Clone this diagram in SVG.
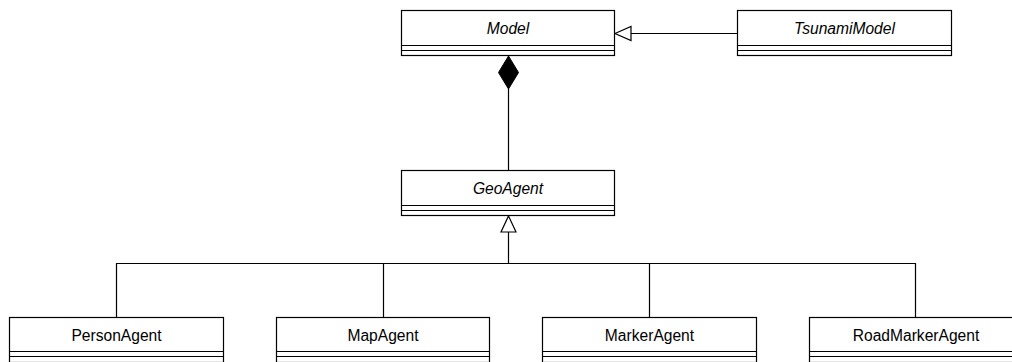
<svg xmlns="http://www.w3.org/2000/svg" width="1012" height="362" viewBox="0 0 1012 362">
<style>
.box{fill:#fff;stroke:#000;stroke-width:1.2}
.ln{fill:none;stroke:#000;stroke-width:1.2}
.t{font-family:"Liberation Sans",Arial,sans-serif;font-size:15.6px;text-anchor:middle;fill:#000}
.i{font-style:italic}
</style>
<rect width="1012" height="362" fill="#fff"/>
<g id="connectors">
<path class="ln" d="M737.5 33.5 H631"/>
<polygon points="615,33.5 631,26.5 631,40.5" fill="#fff" stroke="#000" stroke-width="1.2"/>
<path class="ln" d="M508.5 89 V170"/>
<polygon points="508.5,56 518.5,72.5 508.5,89 498.5,72.5" fill="#000" stroke="#000"/>
<path class="ln" d="M508.5 232 V263.5 M116.5 317 V263.5 H915.5 V317 M383.5 263.5 V317 M649.5 263.5 V317"/>
<polygon points="508.5,216 516,232 501,232" fill="#fff" stroke="#000" stroke-width="1.2"/>
</g>
<g id="Model">
<rect class="box" x="401.5" y="10.5" width="213" height="45"/>
<path class="ln" d="M401.5 45.5 H614.5 M401.5 50.5 H614.5"/>
<text class="t i" x="508" y="33.5">Model</text>
</g>
<g id="TsunamiModel">
<rect class="box" x="737.5" y="10.5" width="214" height="45"/>
<path class="ln" d="M737.5 45.5 H951.5 M737.5 50.5 H951.5"/>
<text class="t i" x="844.5" y="33.5">TsunamiModel</text>
</g>
<g id="GeoAgent">
<rect class="box" x="401.5" y="170.5" width="213" height="45"/>
<path class="ln" d="M401.5 205.5 H614.5 M401.5 210.5 H614.5"/>
<text class="t i" x="508" y="193.5">GeoAgent</text>
</g>
<g id="PersonAgent">
<rect class="box" x="9.5" y="317.5" width="214" height="45"/>
<path class="ln" d="M9.5 351.5 H223.5 M9.5 356.5 H223.5"/>
<text class="t" x="116.5" y="340.5">PersonAgent</text>
</g>
<g id="MapAgent">
<rect class="box" x="276.5" y="317.5" width="213" height="45"/>
<path class="ln" d="M276.5 351.5 H489.5 M276.5 356.5 H489.5"/>
<text class="t" x="383" y="340.5">MapAgent</text>
</g>
<g id="MarkerAgent">
<rect class="box" x="542.5" y="317.5" width="214" height="45"/>
<path class="ln" d="M542.5 351.5 H756.5 M542.5 356.5 H756.5"/>
<text class="t" x="649.5" y="340.5">MarkerAgent</text>
</g>
<g id="RoadMarkerAgent">
<rect class="box" x="809.5" y="317.5" width="214" height="45"/>
<path class="ln" d="M809.5 351.5 H1023.5 M809.5 356.5 H1023.5"/>
<text class="t" x="916" y="340.5">RoadMarkerAgent</text>
</g>
</svg>
